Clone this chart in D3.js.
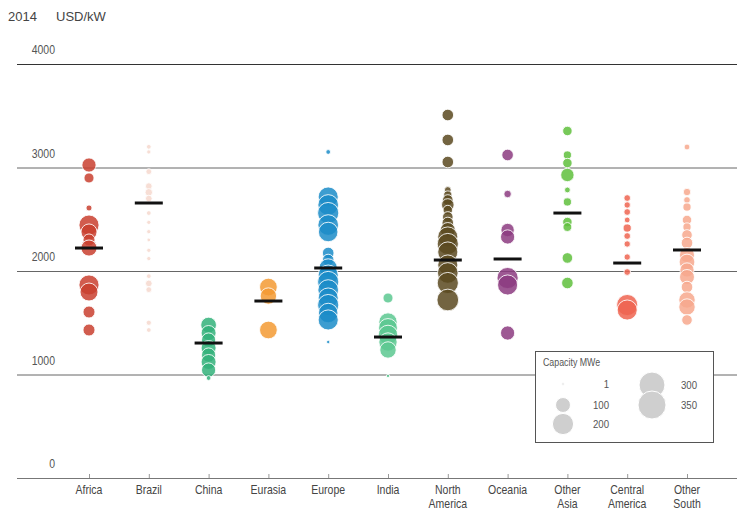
<!DOCTYPE html>
<html><head><meta charset="utf-8">
<script src="https://cdn.jsdelivr.net/npm/d3@7"></script>
<style>
body{margin:0;background:#fff;}
svg{display:block;font-family:"Liberation Sans",Arial,sans-serif;}
</style></head><body>
<svg id="c" width="744" height="512"></svg>
<script>
const categories = ["Africa","Brazil","China","Eurasia","Europe","India","North America","Oceania","Other Asia","Central America","Other South"];
const colors = ["#c9402f","#f3cdbf","#33b27a","#f39a32","#1b8cc8","#5cc890","#5a4920","#8c3b80","#5fbf3c","#ef6450","#f7a88d"];
const means = [2222,2657,1304,1710,2029,1362,2106,2116,2560,2077,2203];
const costs = [
  [3024,2899,2609,2444,2377,2300,2222,1865,1797,1604,1430],
  [3200,3150,2960,2820,2760,2700,2560,2470,2380,2300,2200,2120,1950,1880,1820,1500,1430],
  [1478,1401,1333,1256,1188,1121,1043,966],
  [1845,1758,1430],
  [3150,2715,2638,2560,2444,2377,2174,2106,2029,1961,1894,1816,1739,1671,1594,1527,1314],
  [1739,1507,1449,1382,1314,1237,986],
  [3507,3266,3053,2783,2734,2686,2638,2589,2522,2464,2396,2329,2261,2184,2058,1981,1884,1720],
  [3121,2744,2396,2329,1932,1865,1401],
  [3353,3121,3043,2928,2783,2667,2473,2425,2126,1884],
  [2705,2638,2570,2493,2415,2338,2261,2135,1990,1671,1623],
  [3198,2763,2686,2618,2493,2425,2348,2271,2155,2087,2010,1942,1845,1720,1652,1527]
];
const caps = [
  [90,45,16,180,115,64,115,180,144,64,64],
  [10,8,15,20,25,20,10,8,8,6,8,8,10,20,15,12,10],
  [110,100,90,100,90,100,90,10],
  [140,120,140],
  [10,180,190,200,190,170,60,60,150,180,200,190,180,200,170,180,5],
  [45,150,160,170,150,120,5],
  [60,60,60,20,30,50,70,40,50,60,100,180,200,180,180,190,200,210],
  [60,25,80,90,200,180,90],
  [40,30,40,80,15,30,40,35,50,60],
  [20,18,20,15,30,20,18,18,20,200,180],
  [15,25,20,30,40,30,50,60,100,110,90,100,60,120,120,50]
];
const yTicks = [0,1000,2000,3000,4000];
const legendCaps = [1,100,200,300,350];

const svg = d3.select("#c");
const y = d3.scaleLinear().domain([0,4000]).range([478,64]);
const x = d3.scalePoint().domain(categories).range([89,687]);
const r = d3.scaleSqrt().domain([0,350]).range([0,14]);
const narrow = 0.84;

svg.append("text").attr("x",8).attr("y",21).attr("font-size",13).attr("fill","#444").text("2014");
svg.append("text").attr("x",56).attr("y",21).attr("font-size",13).attr("fill","#444").text("USD/kW");

// gridlines
const g = svg.append("g");
yTicks.forEach(t=>{
  if(t>0) g.append("line").attr("x1",17).attr("x2",737).attr("y1",y(t)+0.5).attr("y2",y(t)+0.5)
    .attr("stroke", t===4000?"#333":"#666").attr("stroke-width",1);
  g.append("text").attr("transform",`translate(55,${y(t)-10}) scale(${narrow},1)`).attr("text-anchor","end").attr("font-size",12.5).attr("fill","#555").text(t);
});
// x axis
const xa = svg.append("g").attr("transform","translate(0,478)")
  .call(d3.axisBottom(x).tickSize(-4).tickFormat(""));
xa.select(".domain").attr("d","M17,0.5H737").attr("stroke","#777");
xa.selectAll(".tick line").attr("stroke","#999");
categories.forEach(c=>{
  c.split(" ").forEach((p,i)=>{
    svg.append("text").attr("transform",`translate(${x(c)},${494+i*14}) scale(${narrow},1)`)
      .attr("text-anchor","middle").attr("font-size",12.5).attr("fill","#444").text(p);
  });
});

// points
categories.forEach((c,i)=>{
  const pts = costs[i].map((v,j)=>({v,cap:caps[i][j]}));
  svg.append("g").selectAll("circle").data(pts).join("circle")
    .attr("cx",x(c)).attr("cy",d=>y(d.v)).attr("r",d=>Math.max(1.5,r(d.cap)))
    .attr("fill",colors[i]).attr("fill-opacity",i===1?0.65:0.85)
    .attr("stroke","#fff").attr("stroke-opacity",0.85).attr("stroke-width",1);
});
// mean bars
svg.append("g").selectAll("line").data(categories).join("line")
  .attr("x1",d=>x(d)-14).attr("x2",d=>x(d)+14)
  .attr("y1",(d,i)=>y(means[i])).attr("y2",(d,i)=>y(means[i]))
  .attr("stroke","#111").attr("stroke-width",3);

// legend
const lg = svg.append("g");
lg.append("rect").attr("x",535.5).attr("y",351.5).attr("width",178).attr("height",91).attr("fill","#fff").attr("stroke","#555");
lg.append("text").attr("transform",`translate(543,366) scale(${narrow},1)`).attr("font-size",10.5).attr("fill","#555").text("Capacity MWe");
const lpos = [[563,384,609],[563,405,609],[563,424,609],[652,385,697],[652,405,697]];
legendCaps.forEach((cp,i)=>{
  const [cx,cy,lx]=lpos[i];
  lg.append("circle").attr("cx",cx).attr("cy",cy).attr("r",Math.max(1.2,r(cp))).attr("fill","#cfcfcf").attr("stroke","#fff").attr("stroke-width",1);
  lg.append("text").attr("transform",`translate(${lx},${cy+4}) scale(${narrow},1)`).attr("text-anchor","end").attr("font-size",11.5).attr("fill","#555").text(cp);
});
</script></body></html>
